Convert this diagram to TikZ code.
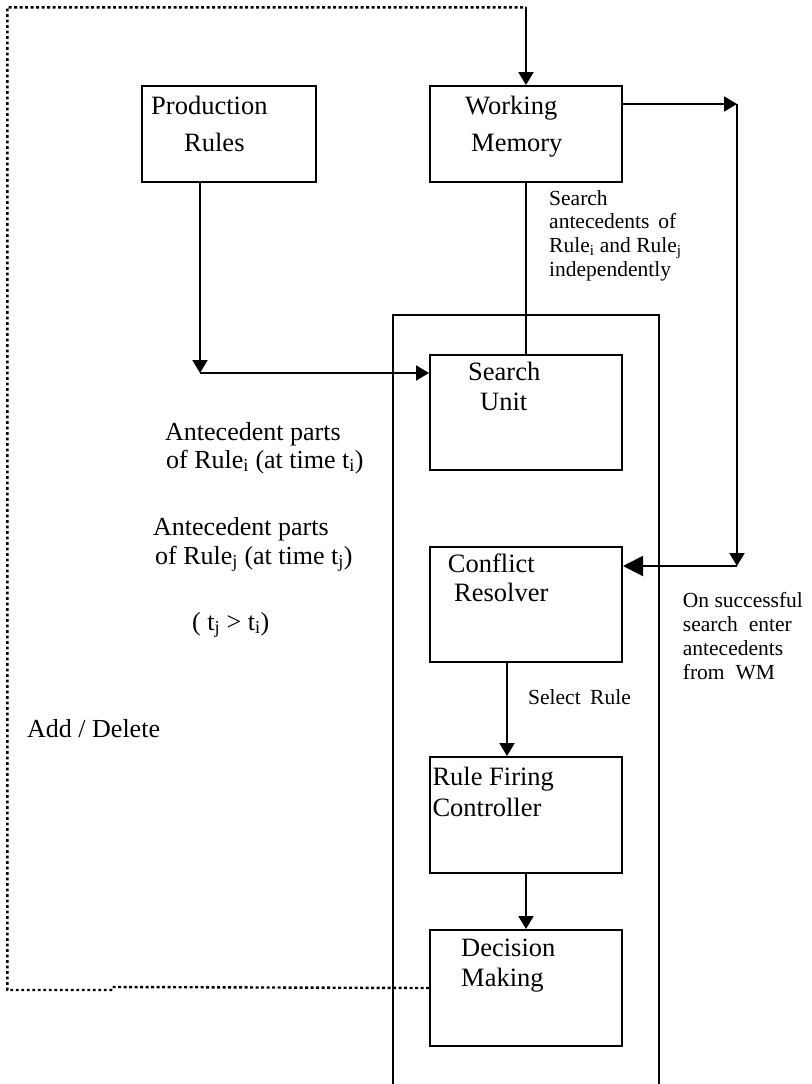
\documentclass[tikz,border=0pt]{standalone}
\usepackage{fontspec}
\setmainfont{Liberation Serif}
\usetikzlibrary{arrows.meta}
\tikzset{
  box/.style={draw, line width=2pt, minimum width=192pt, minimum height=115pt, inner sep=0pt, anchor=center},
  conn/.style={line width=2pt},
  arr/.style={conn, -{Triangle[length=13pt,width=15pt]}},
  bigarr/.style={conn, -{Triangle[length=20pt,width=20pt]}},
  dotline/.style={line width=2.4pt, dash pattern=on 2.8pt off 2.7pt},
  lbl/.style={anchor=base west, inner sep=0pt, font=\fontsize{26.5}{30}\selectfont},
  note/.style={anchor=base west, inner sep=0pt, font=\fontsize{21.5}{24}\selectfont},
  mid/.style={anchor=base west, inner sep=0pt, font=\fontsize{26}{28}\selectfont},
}
\begin{document}
\begin{tikzpicture}[x=1pt,y=-1pt]
\useasboundingbox (0,0) rectangle (811,1084);
% boxes
\node[box, minimum width=174pt, minimum height=96pt] (pr) at (229,134) {};
\node[box, minimum height=96pt] (wm) at (526,134) {};
\node[box] (su) at (526,412.5) {};
\node[box] (cr) at (526,604.5) {};
\node[box, minimum height=116pt] (rfc) at (526,815) {};
\node[box, minimum height=116pt] (dm) at (526,988) {};
% outer frame
\coordinate (fbl) at (393,1084);
\coordinate (ftl) at (393,315);
\coordinate (ftr) at (659,315);
\coordinate (fbr) at (659,1084);
\draw[conn] (fbl) -- (ftl) -- (ftr) -- (fbr);
% box labels
\node[lbl] (prl) at (151,114.3) {\vtop{\baselineskip=37.4pt\hbox{Production}\hbox{\hspace*{33pt}Rules}}};
\node[lbl] (wml) at (465,114.3) {\vtop{\baselineskip=37.4pt\hbox{Working}\hbox{\hspace*{6pt}Memory}}};
\node[lbl] (sul) at (468,380.7) {\vtop{\baselineskip=29.3pt\hbox{Search}\hbox{\hspace*{12pt}Unit}}};
\node[lbl] (crl) at (447.7,572.7) {\vtop{\baselineskip=29pt\hbox{Conflict}\hbox{\hspace*{6.3pt}Resolver}}};
\node[lbl] (rfcl) at (432.3,785) {\vtop{\baselineskip=31pt\hbox{Rule Firing}\hbox{Controller}}};
\node[lbl] (dml) at (461,956.7) {\vtop{\baselineskip=30pt\hbox{Decision}\hbox{Making}}};
% coordinates for connectors
\coordinate (c1) at (200,373);
\coordinate (c2) at (507,0);
\coordinate (rt) at (737,104);
\coordinate (rb) at (737,566);
\coordinate (d1) at (112,987);
\coordinate (d2) at (111,990);
\coordinate (d3) at (7.3,990);
\coordinate (d4) at (7.3,7.3);
\coordinate (d5) at (526,7.3);
% connectors
\draw[arr] (pr.south -| c1) -- (c1);
\draw[arr] (c1) -- (su.west |- c1);
\draw[conn] (wm.south) -- (su.north);
\draw[arr] (wm.east |- rt) -- (rt);
\draw[arr] (rt) -- (rb);
\draw[bigarr] (rb) -- (cr.east |- rb);
\draw[arr] (cr.south -| c2) -- (rfc.north -| c2);
\draw[arr] (rfc.south) -- (dm.north);
\draw[dotline] (dm.west) -- (d1) -- (d2) -- (d3) -- (d4) -- (d5);
\draw[arr] (d5) -- (wm.north);
% annotations
\node[note] (sa) at (549,205) {\vtop{\baselineskip=23.7pt\hbox{Search}\hbox{antecedents\hspace{8.8pt}of}\hbox{Rule\textsubscript{i} and Rule\textsubscript{j}}\hbox{independently}}};
\node[mid] (a1) at (165,440) {\vtop{\baselineskip=28pt\hbox{Antecedent parts}\hbox{\hspace*{1pt}of Rule\textsubscript{i} (at time t\textsubscript{i})}}};
\node[mid] (a2) at (153,535) {\vtop{\baselineskip=29pt\hbox{Antecedent parts}\hbox{\hspace*{2pt}of Rule\textsubscript{j} (at time t\textsubscript{j})}}};
\node[mid] (tt) at (192,630) {( t\textsubscript{j} > t\textsubscript{i})};
\node[mid] (ad) at (27,737) {Add / Delete};
\node[note] (sr) at (528,704) {Select\hspace{9.5pt}Rule};
\node[note] (os) at (682.7,607.7) {\vtop{\baselineskip=24pt\hbox{On successful}\hbox{search\hspace{11pt}enter}\hbox{antecedents}\hbox{from\hspace{11pt}WM}}};
\end{tikzpicture}
\end{document}
